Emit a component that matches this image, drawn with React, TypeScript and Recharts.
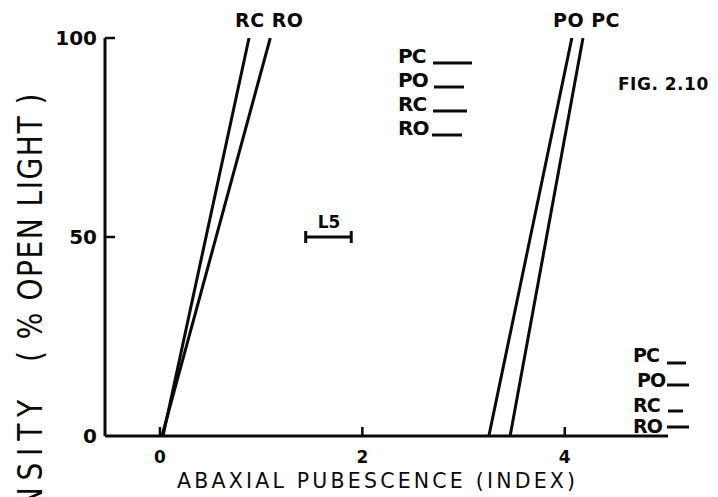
import { LineChart, Line, XAxis, YAxis } from 'recharts';

// straight regression lines (x = pubescence index, y = % open light)
const rcLine = [{ x: 0.03, y: 0 }, { x: 0.88, y: 100 }];
const roLine = [{ x: 0.02, y: 0 }, { x: 1.09, y: 100 }];
const poLine = [{ x: 3.25, y: 0 }, { x: 4.07, y: 100 }];
const pcLine = [{ x: 3.46, y: 0 }, { x: 4.18, y: 100 }];
const lsdBar = [{ x: 1.44, y: 50 }, { x: 1.89, y: 50 }];

const xTicks = [0, 2, 4];
const yTicks = [0, 50, 100];
const keyLabels = ['PC', 'PO', 'RC', 'RO'];

const FONT = '"DejaVu Sans", Verdana, sans-serif';
const INK = '#0a0a0a';

function XTick({ x, y, payload }: any) {
  return (
    <g>
      <line x1={x} x2={x} y1={y} y2={y - 9} stroke={INK} strokeWidth={2.5} />
      <text x={x} y={y + 27} textAnchor="middle" fontFamily={FONT} fontSize={17} fontWeight="bold" fill={INK}>
        {payload.value}
      </text>
    </g>
  );
}

function YTick({ x, y, payload }: any) {
  return (
    <g>
      {payload.value !== 0 && <line x1={x} x2={x + 10} y1={y} y2={y} stroke={INK} strokeWidth={2.5} />}
      <text x={x - 8} y={y + 7} textAnchor="end" fontFamily={FONT} fontSize={20} fontWeight="bold" fill={INK}>
        {payload.value}
      </text>
    </g>
  );
}

function Cap(props: any) {
  const { cx, cy, index } = props;
  return <line key={index} x1={cx} x2={cx} y1={cy - 6} y2={cy + 6} stroke={INK} strokeWidth={3} />;
}

const lineProps = {
  dataKey: 'y',
  stroke: INK,
  strokeWidth: 3,
  dot: false,
  type: 'linear' as const,
  isAnimationActive: false,
};

export default function App() {
  const topKeyY = [63, 87, 111, 135];
  const topDash = [[433, 472], [434, 464], [433, 467], [432, 462]];
  const botKeyY = [362, 387, 412, 433];
  const botDash = [[667, 686, 363], [667, 689, 385], [668, 683, 411], [667, 689, 427]];

  return (
    <div style={{ position: 'fixed', left: 0, top: 0, width: 718, height: 497, overflow: 'hidden', background: '#fff' }}>
      <LineChart width={718} height={497} margin={{ top: 38, right: 50, bottom: 0, left: 0 }}>
        <XAxis
          type="number"
          dataKey="x"
          domain={[-0.543, 5.02]}
          ticks={xTicks}
          height={61}
          tickSize={0}
          tickMargin={0}
          tickLine={false}
          tick={<XTick />}
          axisLine={{ stroke: INK, strokeWidth: 3 }}
          allowDataOverflow
        />
        <YAxis
          type="number"
          dataKey="y"
          domain={[0, 100]}
          ticks={yTicks}
          width={105}
          tickSize={0}
          tickMargin={0}
          tickLine={false}
          tick={<YTick />}
          axisLine={{ stroke: INK, strokeWidth: 3 }}
          allowDataOverflow
        />
        <Line {...lineProps} data={rcLine} name="RC" />
        <Line {...lineProps} data={roLine} name="RO" />
        <Line {...lineProps} data={poLine} name="PO" />
        <Line {...lineProps} data={pcLine} name="PC" />
        <Line {...lineProps} data={lsdBar} name="LSD" dot={<Cap />} />
      </LineChart>

      <svg width={718} height={497} style={{ position: 'absolute', left: 0, top: 0, pointerEvents: 'none' }}>
        <g fontFamily={FONT} fill={INK}>
          {/* y title runs off the bottom edge, as in the scan */}
          <text
            transform="translate(42,92) rotate(-90) scale(0.85,1)"
            textAnchor="end"
            fontSize={33}
            letterSpacing={1.8}
            style={{ whiteSpace: 'pre' }}
          >
            ( % OPEN LIGHT )
          </text>
          <text
            transform="translate(42,393) rotate(-90) scale(0.85,1)"
            textAnchor="end"
            fontSize={33}
            letterSpacing={8}
          >
            INTENSITY
          </text>
          <text x={177} y={488} fontSize={20.5} letterSpacing={3.2}>
            ABAXIAL PUBESCENCE (INDEX)
          </text>

          <text x={235} y={27} fontSize={19} fontWeight="bold" letterSpacing={0.5}>RC RO</text>
          <text x={553} y={27} fontSize={19} fontWeight="bold" letterSpacing={0.5}>PO PC</text>
          <text x={618} y={90} fontSize={17} fontWeight="bold" letterSpacing={0.5}>FIG. 2.10</text>
          <text x={329} y={228} fontSize={17} fontWeight="bold" textAnchor="middle">L5</text>

          {keyLabels.map((k, i) => (
            <g key={'t' + k}>
              <text x={398} y={topKeyY[i]} fontSize={20} fontWeight="bold" letterSpacing={-1}>{k}</text>
              <line x1={topDash[i][0]} x2={topDash[i][1]} y1={topKeyY[i]} y2={topKeyY[i]} stroke={INK} strokeWidth={3} />
            </g>
          ))}
          {keyLabels.map((k, i) => (
            <g key={'b' + k}>
              <text x={i === 1 ? 637 : 633} y={botKeyY[i]} fontSize={19} fontWeight="bold" letterSpacing={-1}>{k}</text>
              <line x1={botDash[i][0]} x2={botDash[i][1]} y1={botDash[i][2]} y2={botDash[i][2]} stroke={INK} strokeWidth={3} />
            </g>
          ))}
        </g>
      </svg>
    </div>
  );
}
